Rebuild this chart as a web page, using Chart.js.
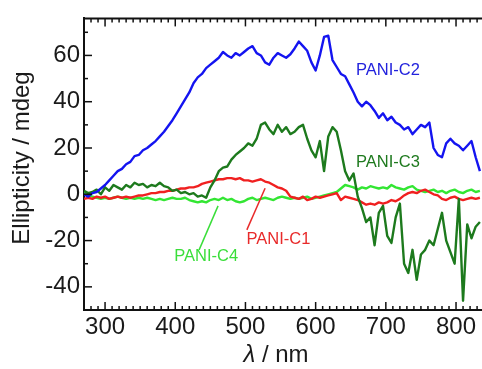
<!DOCTYPE html>
<html>
<head>
<meta charset="utf-8">
<script src="https://cdn.jsdelivr.net/npm/chart.js@4.4.1/dist/chart.umd.min.js"></script>
<style>
  html, body { margin: 0; padding: 0; background: #fff; }
</style>
</head>
<body>
<canvas id="cd" width="482" height="369"></canvas>
<script>
// wavelength grid (nm)
const wavelengths = [
  270, 276, 282, 288, 294, 300, 306, 312, 318, 324,
  330, 336, 342, 348, 354, 360, 366, 372, 378, 384,
  390, 396, 402, 408, 414, 420, 426, 432, 438, 444,
  450, 456, 462, 468, 474, 480, 486, 492, 498, 504,
  510, 516, 522, 528, 534, 540, 546, 552, 558, 564,
  570, 576, 582, 588, 594, 600, 606, 612, 618, 624,
  630, 636, 642, 648, 654, 660, 666, 672, 678, 684,
  690, 696, 702, 708, 714, 720, 726, 732, 738, 744,
  750, 756, 762, 768, 774, 780, 786, 792, 798, 804,
  810, 816, 822, 828, 834
];

// ellipticity (mdeg)
const pc2 = [
  0, -1, 0.5, 1, 2.5, 4, 6, 8, 10, 11,
  13, 14, 16.5, 17, 19, 20, 21.5, 23, 25, 27,
  29.5, 32, 35, 38, 41, 44, 48, 50.5, 52, 54.5,
  56, 57.5, 59, 61.5, 60, 59, 61, 60, 61.5, 63,
  64, 61, 60, 57, 56, 59, 61, 60, 59, 60.5,
  63, 66, 64, 62, 57, 53.5, 60, 68, 68.5, 58,
  55, 52, 51, 47.5, 44, 40, 38, 40, 38.5, 36,
  33, 35, 32, 33.5, 31, 30, 28, 29, 26, 28,
  30, 29, 31, 20, 17, 16, 22, 24, 22, 21,
  19, 21, 23, 16, 10
];
const pc3 = [
  1.5, 0.5, 1, 2, 0, 3, 1.5, 4, 3, 2,
  4, 3, 5, 4, 4.5, 3, 4, 3.5, 5, 3.5,
  3, 1.5, 2, 0.5, 1, 0, 0.5, -1, -0.5, -1.5,
  3, 6, 10, 11.5, 12, 15, 17, 18.5, 20, 22,
  21, 24, 30, 31, 28, 26, 30, 27, 29, 26,
  27, 29, 30, 24, 19, 16, 23, 10, 25, 29,
  27, 19, 10, 6, 9, -1, -6, -12, -10, -22,
  -8, -5, -18, -21, -10, -4, -30, -34, -24, -37,
  -26, -24, -20, -22, -15, -8, -20, -25, -30, -2,
  -46, -13, -19, -14, -12
];
const pc1 = [
  -2, -1.5, -2, -1, -1.5, -1, -2, -1.5, -1, -1.5,
  -1, -1.5, -1, -0.5, -0.5, 0, 0.5, 0.5, 1, 1,
  1.5, 1.5, 2, 2.5, 2.5, 3, 3, 3.5, 4.5, 5,
  5.5, 6, 6.5, 6.5, 7, 7, 6.5, 7, 6, 6,
  5.5, 6, 6.5, 5.5, 5, 4, 3, 2.5, 1.5, -1,
  -1.5, -2, -1, -2.5, -2, -1, -1.5, -1, -0.5, 0,
  0.5, -2.5, -1, -1.5, -2, -2.5, -3.5, -4.5, -4, -4.5,
  -3.5, -4, -3.5, -2.5, -3, -2, -0.5, 0.5, 1, 0.5,
  1.5, 2, 1, 0, -0.5, -2, -2.5, -1.5, -1, -2,
  -2.5, -2, -1.5, -2, -1.5
];
const pc4 = [
  1, -0.5, -1, -1.5, -2, -1.5, -2, -1.5, -1, -1.5,
  -2, -1.5, -2, -1.5, -2, -1.5, -2, -2.5, -2, -2.5,
  -2, -1.5, -2, -2, -1.5, -2.5, -3, -3.5, -3, -3.5,
  -2.5, -2, -2.5, -1.5, -2.5, -2, -3, -3.5, -3, -2,
  -1.5, -2.5, -2, -1.5, -2, -2.5, -1.5, -1, -1.5, -2,
  -1.5, -2, -1.5, -1, -2, -1.5, -1, -0.5, 0, 0.5,
  1, 2.5, 4, 3.5, 3, 2, 3, 2.5, 3.5, 3,
  2.5, 3, 2.5, 4, 3, 2.5, 2, 3, 3.5, 2,
  1.5, 1, 1.5, 2, 1, 1.5, 0.5, 1.5, 2, 1,
  0.5, 1.5, 2, 1, 1.5
];

const xTicks = [300, 400, 500, 600, 700, 800];
const yTicks = [-40, -20, 0, 20, 40, 60];

const FONT = '"Liberation Sans", Arial, sans-serif';

// series label text, colours and where they sit (data coords)
const labels = [
  { text: 'PANI-C2', color: '#2323dd', x: 703, y: 53.5 },
  { text: 'PANI-C3', color: '#1f7a1f', x: 703, y: 13.7 },
  { text: 'PANI-C4', color: '#3ade3a', x: 444, y: -27 },
  { text: 'PANI-C1', color: '#e82a2a', x: 547, y: -19.7 }
];
const leaders = [
  { color: '#3ade3a', from: [434, -24], to: [461, -5] },
  { color: '#e82a2a', from: [502, -15.4], to: [528, 2.6] }
];

function pts(ys) {
  return wavelengths.map((w, i) => ({ x: w, y: ys[i] }));
}

const decor = {
  id: 'decor',
  afterDatasetsDraw(chart) {
    const { ctx, chartArea: a, scales: { x, y } } = chart;
    ctx.save();
    ctx.strokeStyle = '#111';
    ctx.lineWidth = 1.5;
    const seg = (x1, y1, x2, y2) => {
      ctx.beginPath(); ctx.moveTo(x1, y1); ctx.lineTo(x2, y2); ctx.stroke();
    };
    // inward ticks, bottom and top
    for (let v = 280; v <= 836; v += 10) {
      const px = x.getPixelForValue(v);
      const len = v % 100 === 0 ? 8 : 4;
      seg(px, a.bottom, px, a.bottom - len);
      seg(px, a.top, px, a.top + len);
    }
    // left ticks
    for (let v = -50; v <= 70; v += 10) {
      const py = y.getPixelForValue(v);
      const len = v % 20 === 0 ? 8 : 4;
      seg(a.left, py, a.left + len, py);
    }
    // top frame line
    ctx.lineWidth = 2;
    seg(a.left, a.top, a.right, a.top);

    // leader lines
    ctx.lineWidth = 1.5;
    leaders.forEach(l => {
      ctx.strokeStyle = l.color;
      seg(x.getPixelForValue(l.from[0]), y.getPixelForValue(l.from[1]),
          x.getPixelForValue(l.to[0]), y.getPixelForValue(l.to[1]));
    });

    // series labels
    ctx.font = '16.5px ' + FONT;
    ctx.textAlign = 'center';
    ctx.textBaseline = 'middle';
    labels.forEach(l => {
      ctx.fillStyle = l.color;
      ctx.fillText(l.text, x.getPixelForValue(l.x), y.getPixelForValue(l.y));
    });

    // axis titles
    ctx.fillStyle = '#1a1a1a';
    ctx.save();
    ctx.translate(22, 158);
    ctx.rotate(-Math.PI / 2);
    ctx.font = '24px ' + FONT;
    ctx.fillText('Ellipticity / mdeg', 0, 0);
    ctx.restore();

    const lam = 'λ', rest = ' / nm';
    ctx.font = 'italic 24px ' + FONT;
    const w1 = ctx.measureText(lam).width;
    ctx.font = '24px ' + FONT;
    const w2 = ctx.measureText(rest).width;
    const x0 = 276 - (w1 + w2) / 2;
    ctx.textAlign = 'left';
    ctx.font = 'italic 24px ' + FONT;
    ctx.fillText(lam, x0, 355);
    ctx.font = '24px ' + FONT;
    ctx.fillText(rest, x0 + w1, 355);
    ctx.restore();
  }
};

new Chart(document.getElementById('cd').getContext('2d'), {
  type: 'line',
  data: {
    datasets: [
      { label: 'PANI-C2', data: pts(pc2), borderColor: '#1414f0' },
      { label: 'PANI-C3', data: pts(pc3), borderColor: '#1d7a1d' },
      { label: 'PANI-C1', data: pts(pc1), borderColor: '#f02020' },
      { label: 'PANI-C4', data: pts(pc4), borderColor: '#33e633' }
    ]
  },
  options: {
    responsive: false,
    animation: false,
    layout: { padding: { top: 16, right: 0, left: 0, bottom: 0 } },
    elements: {
      line: { borderWidth: 2.4, tension: 0, borderJoinStyle: 'round' },
      point: { radius: 0 }
    },
    plugins: {
      legend: { display: false },
      tooltip: { enabled: false }
    },
    scales: {
      x: {
        type: 'linear',
        min: 270,
        max: 837,
        grid: { display: false, drawTicks: false },
        border: { display: true, color: '#111', width: 2 },
        afterBuildTicks: s => { s.ticks = xTicks.map(v => ({ value: v })); },
        afterFit: s => { s.height = 59; },
        ticks: {
          padding: 3,
          color: '#1a1a1a',
          font: { family: FONT, size: 24 }
        }
      },
      y: {
        min: -50,
        max: 76,
        grid: { display: false, drawTicks: false },
        border: { display: true, color: '#111', width: 2 },
        afterBuildTicks: s => { s.ticks = yTicks.map(v => ({ value: v })); },
        afterFit: s => { s.width = 84; },
        ticks: {
          padding: 4,
          color: '#1a1a1a',
          font: { family: FONT, size: 24 }
        }
      }
    }
  },
  plugins: [decor]
});
</script>
</body>
</html>
